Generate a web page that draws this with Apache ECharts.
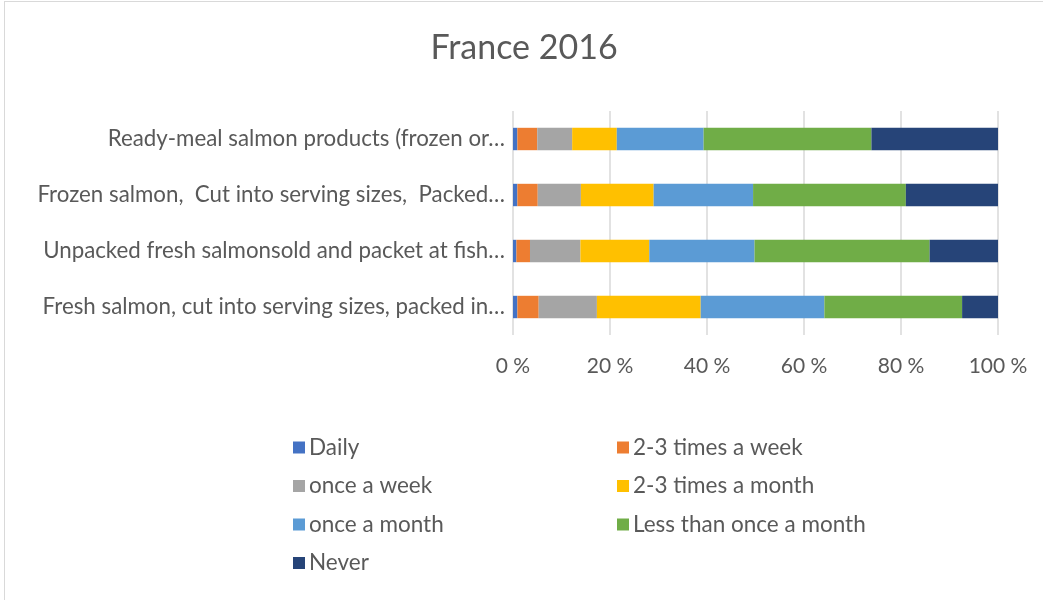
<!DOCTYPE html>
<html>
<head>
<meta charset="utf-8">
<script src="https://cdn.jsdelivr.net/npm/echarts@6/dist/echarts.min.js"></script>
<style>
  html, body { margin: 0; padding: 0; background: #fff; }
  #chart {
    position: absolute;
    left: 4px;
    top: 1px;
    width: 1039px;
    height: 599px;
    box-sizing: border-box;
    border: 1px solid #d9d9d9;
    border-right: none;
    border-bottom: none;
  }
</style>
</head>
<body>
<div id="chart"></div>
<script>
// categories, bottom to top (Excel order)
const products = [
  "Fresh salmon, cut into serving sizes, packed in…",
  "Unpacked fresh salmonsold and packet at fish…",
  "Frozen salmon,  Cut into serving sizes,  Packed…",
  "Ready-meal salmon products (frozen or…"
];

const daily       = [0.9, 0.7, 0.9, 0.9];
const twoThreeWk  = [4.4, 2.8, 4.2, 4.1];
const onceWk      = [12.0, 10.4, 8.9, 7.2];
const twoThreeMo  = [21.4, 14.2, 15.0, 9.2];
const onceMo      = [25.5, 21.7, 20.5, 17.9];
const lessMo      = [28.4, 36.1, 31.5, 34.6];
const never       = [7.4, 14.1, 19.0, 26.1];

const xTicks = [0, 20, 40, 60, 80, 100];

const font = "Lato, 'Open Sans', sans-serif";
const textColor = "#595959";

const seriesDefs = [
  ["Daily", daily, "#4472C4"],
  ["2-3 times a week", twoThreeWk, "#ED7D31"],
  ["once a week", onceWk, "#A5A5A5"],
  ["2-3 times a month", twoThreeMo, "#FFC000"],
  ["once a month", onceMo, "#5B9BD5"],
  ["Less than once a month", lessMo, "#70AD47"],
  ["Never", never, "#264478"]
];

const chart = echarts.init(document.getElementById("chart"));

const legendBase = {
  orient: "vertical",
  top: 429,
  itemWidth: 12,
  itemHeight: 12,
  itemGap: 15.5,
  icon: "rect",
  textStyle: { fontFamily: font, fontSize: 22.5, lineHeight: 22, color: textColor, padding: [0, 0, 0, -1] },
  selectedMode: false
};

chart.setOption({
  animation: false,
  title: {
    text: "France 2016",
    left: "center",
    top: 24,
    textStyle: { fontFamily: font, fontSize: 34, fontWeight: "normal", color: textColor }
  },
  legend: [
    Object.assign({}, legendBase, { left: 283, data: ["Daily", "once a week", "once a month", "Never"] }),
    Object.assign({}, legendBase, { left: 607, data: ["2-3 times a week", "2-3 times a month", "Less than once a month"] })
  ],
  grid: { left: 508, right: 45, top: 109, height: 224 },
  xAxis: {
    type: "value",
    min: 0,
    max: 100,
    interval: 20,
    axisLine: { show: false },
    axisTick: { show: false },
    splitLine: { lineStyle: { color: "#d9d9d9", width: 1.5 } },
    axisLabel: {
      margin: 21,
      fontFamily: font,
      fontSize: 21,
      color: textColor,
      formatter: function (v) { return xTicks.indexOf(v) >= 0 ? v + " %" : ""; }
    }
  },
  yAxis: {
    type: "category",
    data: products,
    axisLine: { show: false },
    axisTick: { show: false },
    axisLabel: { margin: 8, fontFamily: font, fontSize: 22.3, color: textColor }
  },
  series: seriesDefs.map(function (d) {
    return {
      name: d[0],
      type: "bar",
      stack: "total",
      data: d[1],
      barCategoryGap: "60%",
      itemStyle: { color: d[2] }
    };
  })
});
</script>
</body>
</html>
